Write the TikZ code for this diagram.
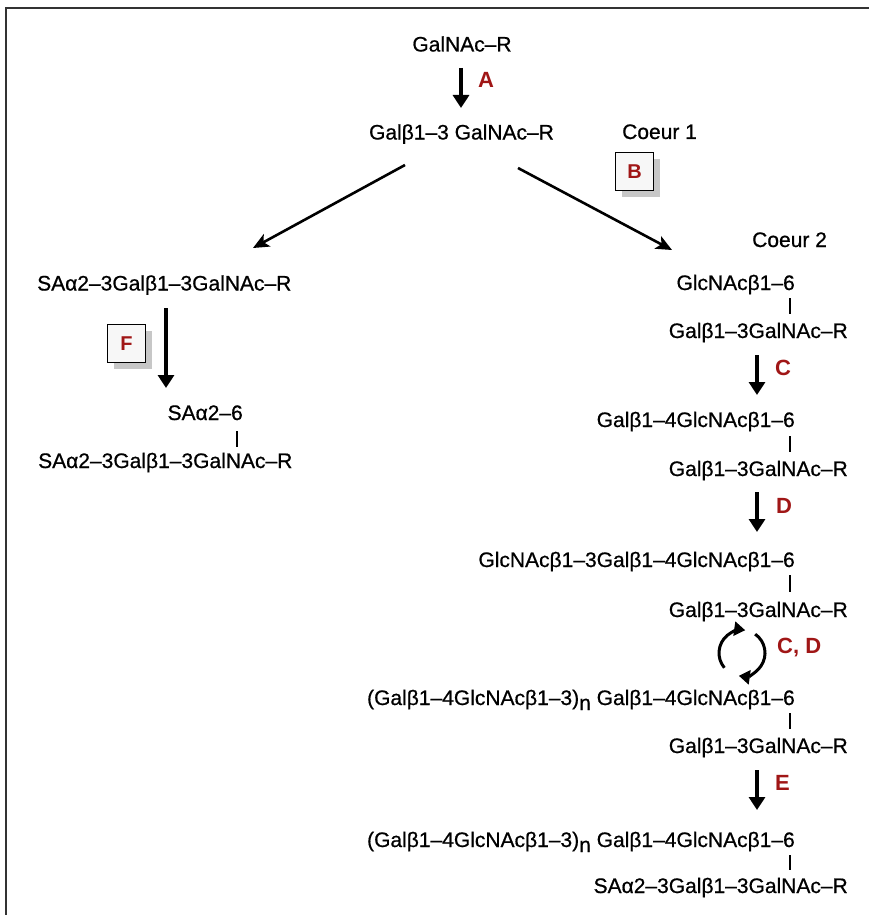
\documentclass[tikz,border=0pt]{standalone}
\usepackage{fontspec}
\setmainfont{Liberation Sans}
\newfontfamily\chemfont[FakeBold=0.7]{Liberation Sans}
\usetikzlibrary{arrows.meta,shadows}
\definecolor{lab}{RGB}{160,22,22}
\begin{document}
\begin{tikzpicture}[x=1pt,y=-1pt,
  txt/.style={inner sep=0pt,font=\chemfont\fontsize{21}{25}\selectfont},
  lbl/.style={inner sep=0pt,text=lab,font=\fontsize{22}{26}\selectfont\bfseries},
  vstep/.style={line width=3.2pt,-{Triangle[width=16pt,length=13pt]}},
  dstep/.style={line width=2.6pt,-{Stealth[width=14pt,length=16pt,inset=4pt]}},
  cyc/.style={line width=3pt,-{Triangle[width=14pt,length=11pt]}},
  bar/.style={line width=1.6pt},
  enz/.style={draw,line width=1.5pt,fill=gray!6,minimum size=38pt,inner sep=0pt,
    text=lab,font=\fontsize{20}{24}\selectfont\bfseries,
    drop shadow={shadow xshift=6pt,shadow yshift=-6pt,fill=gray!55,opacity=0.8}}]
\useasboundingbox (0,0) rectangle (869,915);
\draw[line width=2pt,black!80] (6,915) -- (6,8.5) -- (869,8.5);

% top
\node[txt,anchor=base] (t0) at (462,51.5) {GalNAc–R};
\node[txt,anchor=base] (t1) at (461.5,139.5) {Galβ1–3 GalNAc–R};
\coordinate (a0) at (461,68);
\coordinate (a1) at (461,108);
\draw[vstep] (a0) -- (a1);
\node[lbl,anchor=base west] (lA) at (478,88) {A};
\node[txt,anchor=base west] (co1) at (622,139) {Coeur 1};
\node[enz] (bB) at (634.5,171.5) {B};
\node[txt,anchor=base west] (co2) at (752,247) {Coeur 2};

% left branch
\node[txt,anchor=base west] (L1) at (37,290.5) {SAα2–3Galβ1–3GalNAc–R};
\coordinate (dl0) at (405,165);
\coordinate (dl1) at (253,248);
\draw[dstep] (dl0) -- (dl1);
\coordinate (f0) at (166,308);
\coordinate (f1) at (166,388);
\draw[vstep] (f0) -- (f1);
\node[enz] (bF) at (126.5,343.5) {F};
\node[txt,anchor=base east] (L2a) at (243,420) {SAα2–6};
\coordinate (lb0) at (237,431);
\coordinate (lb1) at (237,447);
\draw[bar] (lb0) -- (lb1);
\node[txt,anchor=base west] (L2b) at (38,468) {SAα2–3Galβ1–3GalNAc–R};

% right branch
\coordinate (dr0) at (518,168);
\coordinate (dr1) at (672,250);
\draw[dstep] (dr0) -- (dr1);
\node[txt,anchor=base east] (R1a) at (795,290) {GlcNAcβ1–6};
\coordinate (b1a) at (790,298);
\coordinate (b1b) at (790,314);
\draw[bar] (b1a) -- (b1b);
\node[txt,anchor=base east] (R1b) at (848,338) {Galβ1–3GalNAc–R};
\coordinate (c0) at (757,355);
\coordinate (c1) at (757,395);
\draw[vstep] (c0) -- (c1);
\node[lbl,anchor=base west] (lC) at (775,375) {C};

\node[txt,anchor=base east] (R2a) at (795,427) {Galβ1–4GlcNAcβ1–6};
\coordinate (b2a) at (790,436);
\coordinate (b2b) at (790,452);
\draw[bar] (b2a) -- (b2b);
\node[txt,anchor=base east] (R2b) at (848,476) {Galβ1–3GalNAc–R};
\coordinate (d0) at (757,492);
\coordinate (d1) at (757,532);
\draw[vstep] (d0) -- (d1);
\node[lbl,anchor=base west] (lD) at (776,513) {D};

\node[txt,anchor=base east] (R3a) at (795,567) {GlcNAcβ1–3Galβ1–4GlcNAcβ1–6};
\coordinate (b3a) at (790,575);
\coordinate (b3b) at (790,592);
\draw[bar] (b3a) -- (b3b);
\node[txt,anchor=base east] (R3b) at (848,617) {Galβ1–3GalNAc–R};
\coordinate (cc) at (742,653);
\draw[cyc] (cc) ++(140:23) arc[start angle=140,end angle=278,radius=23];
\draw[cyc] (cc) ++(-55:23) arc[start angle=-55,end angle=98,radius=23];
\node[lbl,anchor=base west] (lCD) at (777,653) {C, D};

\node[txt,anchor=base east] (R4a) at (795,705) {(Galβ1–4GlcNAcβ1–3)\raisebox{-5pt}{n} Galβ1–4GlcNAcβ1–6};
\coordinate (b4a) at (790,713);
\coordinate (b4b) at (790,729);
\draw[bar] (b4a) -- (b4b);
\node[txt,anchor=base east] (R4b) at (848,753) {Galβ1–3GalNAc–R};
\coordinate (e0) at (757,770);
\coordinate (e1) at (757,810);
\draw[vstep] (e0) -- (e1);
\node[lbl,anchor=base west] (lE) at (775,790) {E};

\node[txt,anchor=base east] (R5a) at (795,847) {(Galβ1–4GlcNAcβ1–3)\raisebox{-5pt}{n} Galβ1–4GlcNAcβ1–6};
\coordinate (b5a) at (790,855);
\coordinate (b5b) at (790,870);
\draw[bar] (b5a) -- (b5b);
\node[txt,anchor=base east] (R5b) at (848,893) {SAα2–3Galβ1–3GalNAc–R};
\end{tikzpicture}
\end{document}
